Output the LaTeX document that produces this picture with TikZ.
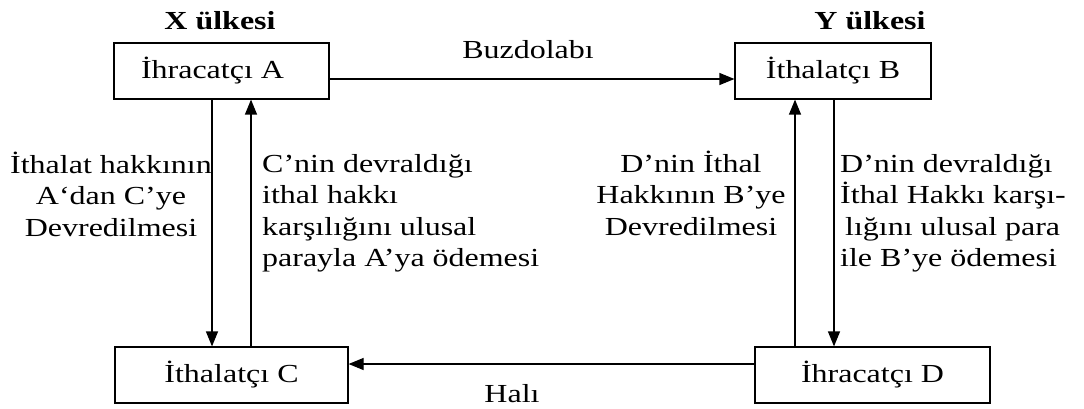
\documentclass[tikz,border=0pt]{standalone}
\usepackage{fontspec}
\setmainfont{Liberation Serif}[FakeStretch=1.23]
\usetikzlibrary{arrows.meta}
\newcommand{\mystrut}{\strut}
\tikzset{
  txt/.style={inner sep=0pt, font=\fontsize{26}{31.5}\selectfont},
  hdr/.style={inner sep=0pt, font=\fontsize{26}{31.5}\selectfont\bfseries},
  box/.style={draw, line width=1.2pt, inner sep=0pt, minimum height=56pt, font=\fontsize{26}{31.5}\selectfont},
  arr/.style={line width=1.2pt, -{Triangle[length=15pt,width=12pt]}},
}
\begin{document}
\begin{tikzpicture}[x=1pt,y=-1pt]
\useasboundingbox (0,0) rectangle (1084,409);
% boxes
\node[box, minimum width=215pt] (A) at (221.5,71) {\hspace*{-18pt}İhracatçı A};
\node[box, minimum width=196pt] (B) at (833,71) {İthalatçı B};
\node[box, minimum width=233pt] (C) at (231.5,375) {İthalatçı C};
\node[box, minimum width=235pt] (D) at (872.5,375) {İhracatçı D};
% headers
\node[hdr, anchor=base] (X) at (220,30) {X ülkesi};
\node[hdr, anchor=base] (Y) at (870,30) {Y ülkesi};
% horizontal connectors
\draw[arr] ([yshift=-8pt]A.east) -- ([yshift=-8pt]B.west);
\node[txt, anchor=base] (buz) at (528,59) {Buzdolabı};
\draw[arr] ([yshift=11pt]D.west) -- ([yshift=11pt]C.east);
\node[txt, anchor=base] (hali) at (512,402) {Halı};
% vertical connectors
\draw[arr] (A.south -| 212,0) -- (C.north -| 212,0);
\draw[arr] (C.north -| 251,0) -- (A.south -| 251,0);
\draw[arr] (D.north -| 795,0) -- (B.south -| 795,0);
\draw[arr] (B.south -| 834,0) -- (D.north -| 834,0);
% side texts
\node[txt, anchor=north, align=center] (t1) at (111,151)
  {\mystrut İthalat hakkının\\\mystrut A‘dan C’ye\\\mystrut Devredilmesi};
\node[txt, anchor=north west, align=left] (t2) at (262,150)
  {\mystrut C’nin devraldığı\\\mystrut ithal hakkı\\\mystrut karşılığını ulusal\\\mystrut parayla A’ya ödemesi};
\node[txt, anchor=north, align=center] (t3) at (691,150)
  {\mystrut D’nin İthal\\\mystrut Hakkının B’ye\\\mystrut Devredilmesi};
\node[txt, anchor=north west, align=left] (t4) at (840,150)
  {\mystrut D’nin devraldığı\\\mystrut İthal Hakkı karşı-\\\mystrut\hspace{5pt}lığını ulusal para\\\mystrut ile B’ye ödemesi};
\end{tikzpicture}
\end{document}
